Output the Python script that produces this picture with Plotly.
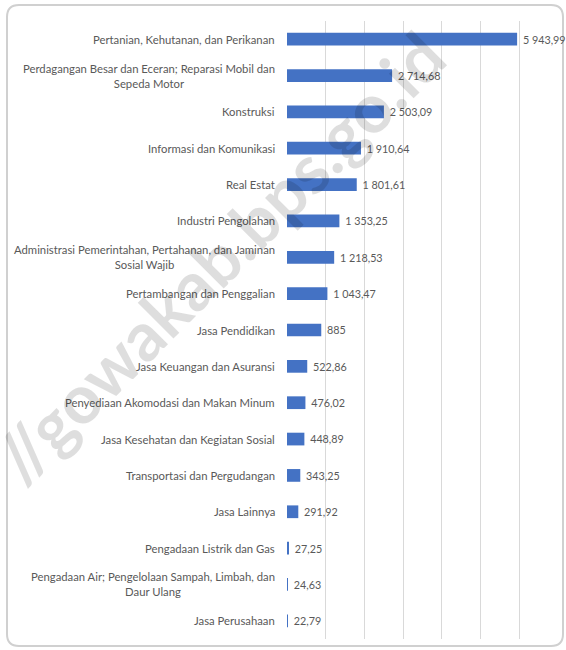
import plotly.graph_objects as go

categories = [
    "Pertanian, Kehutanan, dan Perikanan",
    "Perdagangan Besar dan Eceran; Reparasi Mobil dan<br>Sepeda Motor",
    "Konstruksi",
    "Informasi dan Komunikasi",
    "Real Estat",
    "Industri Pengolahan",
    "Administrasi Pemerintahan, Pertahanan, dan Jaminan<br>Sosial Wajib",
    "Pertambangan dan Penggalian",
    "Jasa Pendidikan",
    "Jasa Keuangan dan Asuransi",
    "Penyediaan Akomodasi dan Makan Minum",
    "Jasa Kesehatan dan Kegiatan Sosial",
    "Transportasi dan Pergudangan",
    "Jasa Lainnya",
    "Pengadaan Listrik dan Gas",
    "Pengadaan Air; Pengelolaan Sampah, Limbah, dan<br>Daur Ulang",
    "Jasa Perusahaan",
]
values = [5943.99, 2714.68, 2503.09, 1910.64, 1801.61, 1353.25, 1218.53,
          1043.47, 885, 522.86, 476.02, 448.89, 343.25, 291.92, 27.25, 24.63, 22.79]
watermark = "//gowakab.bps.go.id"


def fmt(v):
    s = f"{v:,.2f}".replace(",", " ").replace(".", ",")
    if s.endswith(",00"):
        s = s[:-3]
    return s


labels = [" " + fmt(v) for v in values]
ids = list(range(len(categories)))

W, H = 566, 650
ML, MR, MT, MB = 287, 8, 21, 11
PW, PH = W - ML - MR, H - MT - MB


def px(x):
    return (x - ML) / PW


def py(y):
    return (H - MB - y) / PH


FONT = "Lato"
GREY = "#595959"

fig = go.Figure(go.Bar(
    x=values, y=ids, orientation="h",
    marker=dict(color="#4472C4", line=dict(width=0)),
    width=0.35,
    text=labels, textposition="outside", cliponaxis=False,
    textfont=dict(family=FONT, size=11, color=GREY),
    hoverinfo="skip",
))

annotations = []
for i, c in enumerate(categories):
    annotations.append(dict(
        x=0, xref="paper", y=i, yref="y", text=c, showarrow=False,
        xanchor="right", yanchor="middle", align="center", xshift=-10,
        font=dict(family=FONT, size=11.3, color=GREY),
    ))

annotations.append(dict(
    x=px(218), y=py(256), xref="paper", yref="paper", text="<b>" + watermark + "</b>",
    showarrow=False, textangle=-45, xanchor="center", yanchor="middle",
    font=dict(family=FONT, size=68, color="rgba(0,0,0,0.13)"),
))

# card border (rounded rectangle)
L, R, T, B, r = 7, 563, 5, 646, 12
path = (f"M {px(L + r)} {py(T)} L {px(R - r)} {py(T)} Q {px(R)} {py(T)} {px(R)} {py(T + r)} "
        f"L {px(R)} {py(B - r)} Q {px(R)} {py(B)} {px(R - r)} {py(B)} "
        f"L {px(L + r)} {py(B)} Q {px(L)} {py(B)} {px(L)} {py(B - r)} "
        f"L {px(L)} {py(T + r)} Q {px(L)} {py(T)} {px(L + r)} {py(T)} Z")

fig.update_layout(
    width=W, height=H,
    margin=dict(l=ML, r=MR, t=MT, b=MB),
    paper_bgcolor="white", plot_bgcolor="white",
    showlegend=False,
    xaxis=dict(range=[0, 7000], dtick=1000, showgrid=True, gridcolor="#d9d9d9",
               gridwidth=1, showticklabels=False, zeroline=False, showline=False,
               fixedrange=True),
    yaxis=dict(range=[len(categories) - 0.5, -0.5], showticklabels=False,
               showgrid=False, zeroline=False, tickvals=[], fixedrange=True),
    annotations=annotations,
    shapes=[dict(type="path", xref="paper", yref="paper", path=path,
                 line=dict(color="#d0d0d0", width=2), layer="below")],
)

fig.write_html(
    "out.html",
    config={"displayModeBar": False},
    post_script="document.body.style.margin='0';document.body.style.overflow='hidden';",
)
